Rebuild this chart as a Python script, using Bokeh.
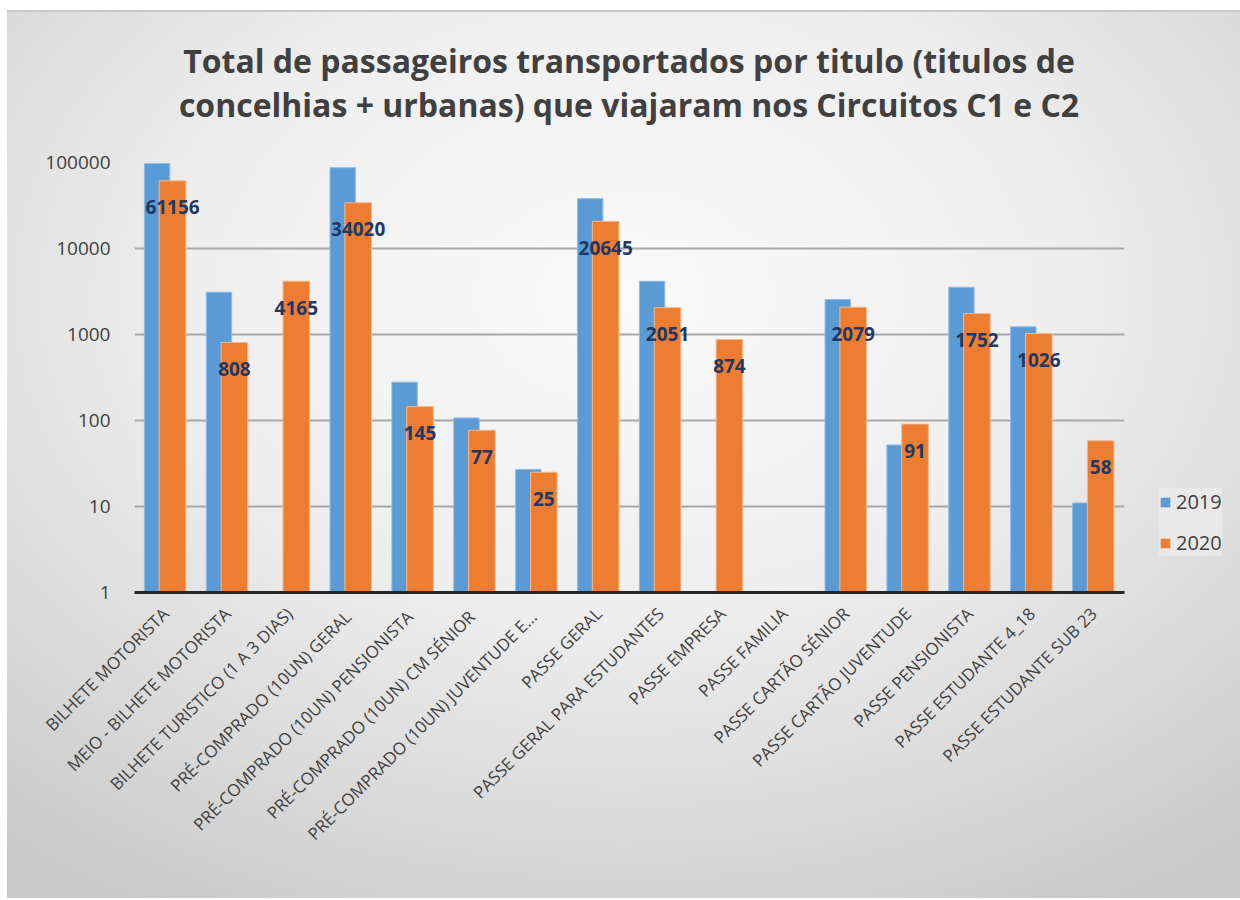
import math
from bokeh.plotting import figure
from bokeh.layouts import row, column
from bokeh.models import (ColumnDataSource, FactorRange, Range1d, FixedTicker,
                          NumeralTickFormatter, Legend, LegendItem, Div)
from bokeh.transform import dodge
from bokeh.core.properties import value
from bokeh.embed import file_html
from bokeh.resources import INLINE

categories = [
    "BILHETE MOTORISTA",
    "MEIO - BILHETE MOTORISTA",
    "BILHETE TURISTICO (1 A 3 DIAS)",
    "PRÉ-COMPRADO  (10UN) GERAL",
    "PRÉ-COMPRADO  (10UN) PENSIONISTA",
    "PRÉ-COMPRADO  (10UN) CM SÉNIOR",
    "PRÉ-COMPRADO  (10UN) JUVENTUDE E...",
    "PASSE GERAL",
    "PASSE GERAL PARA ESTUDANTES",
    "PASSE EMPRESA",
    "PASSE FAMILIA",
    "PASSE CARTÃO SÉNIOR",
    "PASSE CARTÃO JUVENTUDE",
    "PASSE PENSIONISTA",
    "PASSE ESTUDANTE 4_18",
    "PASSE ESTUDANTE SUB 23",
]
v2019 = [97500, 3100, 0, 87000, 279, 107, 27, 38000, 4160, 0, 0, 2550, 52, 3540, 1230, 11]
v2020 = [61156, 808, 4165, 34020, 145, 77, 25, 20645, 2051, 874, 0, 2079, 91, 1752, 1026, 58]
y_ticks = [1, 10, 100, 1000, 10000, 100000]
series_names = ["2019", "2020"]
colors = ["#5B9BD5", "#ED7D31"]

TITLE_LINES = ["Total de passageiros transportados por titulo (titulos de",
               "concelhias + urbanas) que viajaram nos Circuitos C1 e C2"]

src19 = ColumnDataSource(dict(
    cat=[c for c, v in zip(categories, v2019) if v > 0],
    top=[v for v in v2019 if v > 0]))
src20 = ColumnDataSource(dict(
    cat=[c for c, v in zip(categories, v2020) if v > 0],
    top=[v for v in v2020 if v > 0],
    label=[str(v) for v in v2020 if v > 0]))

FONT = "Open Sans"

title_div = Div(
    text=('<div style="font-family:\'Open Sans\';font-weight:bold;font-size:32px;'
          'color:#404040;text-align:center;line-height:44px;padding-top:27px;'
          'margin-left:14px;width:1216px;">'
          + "<br>".join(TITLE_LINES) + "</div>"),
    width=1230, height=130, margin=0)

p = figure(frame_width=990, frame_height=430,
           x_range=FactorRange(factors=categories),
           y_range=Range1d(1, 100000), y_axis_type="log",
           output_backend="svg", toolbar_location=None,
           min_border_left=127, min_border_right=10,
           min_border_top=20, min_border_bottom=290,
           background_fill_alpha=0, border_fill_alpha=0,
           outline_line_color=None, margin=0)

r19 = p.vbar(x=dodge("cat", -0.135, range=p.x_range), top="top", bottom=1,
             width=0.41, source=src19, fill_color=colors[0],
             line_color="#8FBCE6", line_width=1)
r20 = p.vbar(x=dodge("cat", 0.115, range=p.x_range), top="top", bottom=1,
             width=0.43, source=src20, fill_color=colors[1],
             line_color="#F6B88E", line_width=1)

p.text(x=dodge("cat", 0.115, range=p.x_range), y="top", text="label",
       source=src20, text_align="center", text_baseline="middle",
       y_offset=26.5, text_font=value(FONT), text_font_style="bold",
       text_font_size="19px", text_color="#1F3864")

# axes
p.xaxis.major_label_orientation = math.pi / 4
p.xaxis.major_tick_line_color = None
p.xaxis.minor_tick_line_color = None
p.xaxis.axis_line_color = "#262626"
p.xaxis.axis_line_width = 3
p.xaxis.major_label_text_font = FONT
p.xaxis.major_label_text_font_size = "17px"
p.xaxis.major_label_text_color = "#404040"
p.xaxis.major_label_standoff = 12

p.yaxis.ticker = FixedTicker(ticks=y_ticks)
p.yaxis.formatter = NumeralTickFormatter(format="0")
p.yaxis.axis_line_color = None
p.yaxis.major_tick_line_color = None
p.yaxis.minor_tick_line_color = None
p.yaxis.major_label_text_font = FONT
p.yaxis.major_label_text_font_size = "19px"
p.yaxis.major_label_text_color = "#404040"
p.yaxis.major_label_standoff = 18

p.xgrid.grid_line_color = None
p.ygrid.grid_line_color = "#A8A8A8"
p.ygrid.grid_line_width = 2

# legend panel (separate small figure to the right of the plot frame)
pl = figure(width=103, height=740, x_range=Range1d(0, 1), y_range=Range1d(0, 1),
            output_backend="svg", toolbar_location=None,
            x_axis_location=None, y_axis_location=None,
            min_border_left=25, min_border_right=0, min_border_top=0,
            min_border_bottom=326,
            background_fill_alpha=0, border_fill_alpha=0,
            outline_line_color=None, margin=0)
pl.xgrid.grid_line_color = None
pl.ygrid.grid_line_color = None
lr = [pl.vbar(x=[-5], top=[0], bottom=0, width=0.1,
              fill_color=c, line_color=None) for c in colors]
legend = Legend(items=[LegendItem(label=n, renderers=[r]) for n, r in zip(series_names, lr)],
                location="bottom_left")
legend.margin = 0
legend.background_fill_color = "#EBEBEB"
legend.background_fill_alpha = 0.8
legend.border_line_color = None
legend.glyph_width = 12
legend.glyph_height = 12
legend.label_text_font = FONT
legend.label_text_font_size = "20px"
legend.label_text_color = "#404040"
legend.label_standoff = 5
legend.spacing = 14
legend.padding = 8
pl.add_layout(legend, "center")

layout = column(title_div, row(p, pl, spacing=0), spacing=0)
layout.margin = (10, 0, 0, 7)
layout.styles = {"background": "radial-gradient(ellipse 80% 80% at 50% 32%, #FAFAFA 0%, #EEEEEE 45%, #C9C9C9 100%)",
                 "border-top": "2px solid #C8C8C8", "width": "1233px", "height": "888px"}

open("out.html", "w").write(file_html(layout, INLINE))
